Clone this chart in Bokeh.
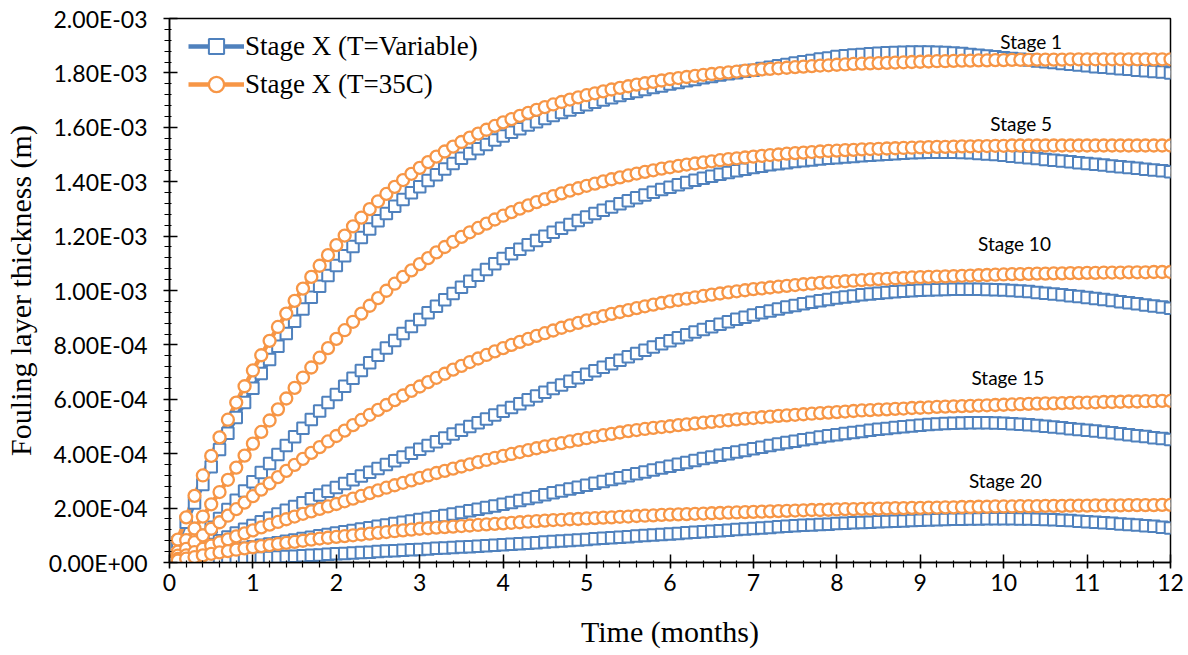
from bokeh.plotting import figure
from bokeh.models import (Range1d, FixedTicker, CustomJSTickFormatter, Legend,
                          LegendItem, ColumnDataSource)
from bokeh.embed import file_html
from bokeh.resources import INLINE
from bokeh.core.properties import value

# ---------------- data (fouling thickness in units of 1e-4 m) ----------------
months = [round(i * 0.1, 1) for i in range(121)]

stage1_35C = [
    0, 0.84, 1.66, 2.45, 3.2, 3.92, 4.6, 5.25, 5.88, 6.48,
    7.06, 7.62, 8.15, 8.66, 9.15, 9.62, 10.07, 10.5, 10.91, 11.3,
    11.67, 12.02, 12.36, 12.68, 12.99, 13.28, 13.55, 13.81, 14.06, 14.29,
    14.51, 14.72, 14.92, 15.11, 15.29, 15.46, 15.62, 15.77, 15.91, 16.05,
    16.18, 16.3, 16.42, 16.53, 16.64, 16.74, 16.84, 16.93, 17.02, 17.1,
    17.18, 17.25, 17.32, 17.39, 17.45, 17.51, 17.57, 17.62, 17.67, 17.72,
    17.77, 17.81, 17.85, 17.89, 17.93, 17.96, 17.99, 18.02, 18.05, 18.08,
    18.1, 18.13, 18.15, 18.17, 18.19, 18.21, 18.23, 18.25, 18.27, 18.28,
    18.3, 18.31, 18.33, 18.34, 18.35, 18.36, 18.37, 18.38, 18.39, 18.4,
    18.41, 18.42, 18.43, 18.43, 18.44, 18.45, 18.45, 18.46, 18.46, 18.47,
    18.47, 18.48, 18.48, 18.48, 18.49, 18.49, 18.49, 18.49, 18.5, 18.5,
    18.5, 18.5, 18.5, 18.5, 18.5, 18.5, 18.5, 18.5, 18.5, 18.5,
    18.5]
stage1_var = [
    0, 0.74, 1.48, 2.19, 2.87, 3.52, 4.15, 4.75, 5.33, 5.88,
    6.41, 6.95, 7.46, 7.95, 8.42, 8.87, 9.32, 9.75, 10.16, 10.55,
    10.92, 11.28, 11.62, 11.95, 12.26, 12.56, 12.83, 13.1, 13.35, 13.59,
    13.81, 14.04, 14.26, 14.47, 14.67, 14.86, 15.04, 15.21, 15.37, 15.53,
    15.68, 15.82, 15.95, 16.08, 16.2, 16.32, 16.43, 16.54, 16.64, 16.74,
    16.83, 16.92, 17.0, 17.09, 17.17, 17.25, 17.32, 17.39, 17.46, 17.52,
    17.59, 17.65, 17.71, 17.76, 17.82, 17.87, 17.92, 17.97, 18.01, 18.06,
    18.1, 18.16, 18.21, 18.26, 18.31, 18.36, 18.41, 18.46, 18.51, 18.55,
    18.6, 18.63, 18.66, 18.68, 18.7, 18.72, 18.74, 18.75, 18.76, 18.77,
    18.77, 18.77, 18.76, 18.75, 18.73, 18.71, 18.68, 18.65, 18.62, 18.59,
    18.56, 18.53, 18.5, 18.47, 18.44, 18.41, 18.38, 18.35, 18.32, 18.29,
    18.26, 18.23, 18.21, 18.18, 18.15, 18.13, 18.1, 18.08, 18.05, 18.03,
    18.0]
stage5_35C = [
    0, 0.4, 0.82, 1.25, 1.69, 2.14, 2.59, 3.04, 3.49, 3.93,
    4.37, 4.8, 5.22, 5.63, 6.03, 6.42, 6.8, 7.17, 7.53, 7.88,
    8.22, 8.54, 8.85, 9.15, 9.44, 9.72, 9.99, 10.25, 10.5, 10.74,
    10.97, 11.19, 11.4, 11.6, 11.79, 11.97, 12.14, 12.3, 12.46, 12.61,
    12.75, 12.88, 13.01, 13.13, 13.25, 13.36, 13.47, 13.57, 13.67, 13.76,
    13.85, 13.93, 14.01, 14.09, 14.16, 14.23, 14.3, 14.36, 14.42, 14.48,
    14.53, 14.58, 14.63, 14.67, 14.71, 14.75, 14.79, 14.83, 14.86, 14.89,
    14.92, 14.95, 14.98, 15.0, 15.03, 15.05, 15.07, 15.09, 15.11, 15.13,
    15.14, 15.16, 15.17, 15.19, 15.2, 15.21, 15.22, 15.23, 15.24, 15.25,
    15.26, 15.27, 15.28, 15.28, 15.29, 15.3, 15.3, 15.31, 15.31, 15.32,
    15.32, 15.33, 15.33, 15.33, 15.33, 15.33, 15.33, 15.33, 15.33, 15.33,
    15.33, 15.33, 15.33, 15.33, 15.33, 15.33, 15.33, 15.33, 15.33, 15.33,
    15.33]
stage5_var = [
    0, 0.2, 0.45, 0.72, 1.0, 1.3, 1.62, 1.95, 2.29, 2.63,
    2.97, 3.31, 3.64, 3.97, 4.3, 4.62, 4.94, 5.26, 5.57, 5.88,
    6.18, 6.48, 6.77, 7.06, 7.34, 7.62, 7.89, 8.16, 8.42, 8.68,
    8.93, 9.18, 9.42, 9.66, 9.89, 10.12, 10.34, 10.56, 10.77, 10.98,
    11.18, 11.35, 11.52, 11.68, 11.84, 11.99, 12.14, 12.29, 12.43, 12.57,
    12.7, 12.83, 12.95, 13.07, 13.19, 13.3, 13.41, 13.51, 13.61, 13.71,
    13.8, 13.89, 13.97, 14.05, 14.13, 14.2, 14.27, 14.34, 14.4, 14.46,
    14.52, 14.57, 14.62, 14.66, 14.7, 14.74, 14.77, 14.8, 14.83, 14.86,
    14.88, 14.91, 14.93, 14.95, 14.97, 14.99, 15.01, 15.03, 15.05, 15.06,
    15.07, 15.08, 15.08, 15.08, 15.08, 15.07, 15.06, 15.04, 15.02, 15.0,
    14.97, 14.94, 14.91, 14.88, 14.85, 14.82, 14.79, 14.76, 14.73, 14.7,
    14.67, 14.64, 14.61, 14.58, 14.55, 14.52, 14.49, 14.46, 14.43, 14.4,
    14.37]
stage10_35C = [
    0, 0.25, 0.5, 0.75, 1.0, 1.24, 1.48, 1.72, 1.96, 2.2,
    2.44, 2.68, 2.91, 3.14, 3.37, 3.59, 3.81, 4.03, 4.24, 4.45,
    4.65, 4.85, 5.05, 5.24, 5.43, 5.61, 5.79, 5.97, 6.14, 6.31,
    6.47, 6.63, 6.79, 6.94, 7.09, 7.23, 7.37, 7.5, 7.63, 7.76,
    7.88, 8.0, 8.11, 8.22, 8.33, 8.43, 8.53, 8.63, 8.72, 8.81,
    8.9, 8.98, 9.06, 9.14, 9.21, 9.28, 9.35, 9.42, 9.48, 9.54,
    9.6, 9.65, 9.7, 9.75, 9.8, 9.85, 9.89, 9.93, 9.97, 10.01,
    10.05, 10.08, 10.11, 10.14, 10.17, 10.2, 10.23, 10.25, 10.28, 10.3,
    10.32, 10.34, 10.36, 10.38, 10.4, 10.42, 10.43, 10.45, 10.46, 10.48,
    10.49, 10.5, 10.51, 10.52, 10.53, 10.54, 10.55, 10.56, 10.57, 10.58,
    10.59, 10.6, 10.6, 10.61, 10.62, 10.62, 10.63, 10.63, 10.64, 10.64,
    10.65, 10.65, 10.66, 10.66, 10.66, 10.67, 10.67, 10.67, 10.68, 10.68,
    10.68]
stage10_var = [
    0, 0.12, 0.25, 0.38, 0.52, 0.66, 0.8, 0.94, 1.08, 1.22,
    1.36, 1.5, 1.64, 1.78, 1.92, 2.06, 2.2, 2.34, 2.48, 2.62,
    2.76, 2.9, 3.04, 3.18, 3.32, 3.46, 3.6, 3.74, 3.88, 4.02,
    4.16, 4.3, 4.44, 4.58, 4.72, 4.86, 5.0, 5.14, 5.28, 5.42,
    5.56, 5.7, 5.84, 5.98, 6.12, 6.26, 6.4, 6.53, 6.66, 6.79,
    6.92, 7.05, 7.18, 7.31, 7.44, 7.56, 7.68, 7.8, 7.92, 8.04,
    8.15, 8.26, 8.37, 8.47, 8.57, 8.67, 8.76, 8.85, 8.94, 9.02,
    9.1, 9.18, 9.25, 9.32, 9.39, 9.45, 9.51, 9.57, 9.62, 9.67,
    9.72, 9.76, 9.8, 9.84, 9.87, 9.9, 9.93, 9.95, 9.97, 9.99,
    10.01, 10.02, 10.03, 10.04, 10.05, 10.05, 10.05, 10.05, 10.04, 10.03,
    10.02, 10.0, 9.98, 9.96, 9.93, 9.9, 9.87, 9.84, 9.81, 9.78,
    9.74, 9.71, 9.67, 9.63, 9.59, 9.55, 9.51, 9.47, 9.43, 9.39,
    9.35]
stage15_35C = [
    0, 0.13, 0.26, 0.38, 0.5, 0.62, 0.74, 0.85, 0.96, 1.07,
    1.18, 1.29, 1.39, 1.49, 1.59, 1.69, 1.79, 1.88, 1.97, 2.06,
    2.15, 2.25, 2.35, 2.45, 2.55, 2.65, 2.75, 2.84, 2.93, 3.02,
    3.11, 3.2, 3.29, 3.37, 3.45, 3.53, 3.61, 3.69, 3.77, 3.85,
    3.92, 3.99, 4.06, 4.13, 4.2, 4.27, 4.33, 4.39, 4.45, 4.51,
    4.57, 4.63, 4.68, 4.73, 4.78, 4.83, 4.87, 4.91, 4.95, 4.98,
    5.01, 5.05, 5.08, 5.11, 5.14, 5.17, 5.2, 5.23, 5.26, 5.29,
    5.31, 5.34, 5.36, 5.39, 5.41, 5.43, 5.45, 5.47, 5.49, 5.51,
    5.53, 5.55, 5.57, 5.59, 5.6, 5.62, 5.63, 5.65, 5.66, 5.68,
    5.69, 5.7, 5.72, 5.73, 5.74, 5.75, 5.76, 5.77, 5.78, 5.79,
    5.8, 5.81, 5.82, 5.83, 5.84, 5.85, 5.85, 5.86, 5.87, 5.88,
    5.88, 5.89, 5.9, 5.9, 5.91, 5.92, 5.92, 5.93, 5.93, 5.94,
    5.94]
stage15_var = [
    0, 0.05, 0.1, 0.16, 0.22, 0.28, 0.34, 0.4, 0.46, 0.52,
    0.58, 0.63, 0.68, 0.73, 0.78, 0.83, 0.88, 0.93, 0.98, 1.03,
    1.08, 1.13, 1.18, 1.23, 1.28, 1.33, 1.38, 1.43, 1.48, 1.53,
    1.58, 1.63, 1.68, 1.73, 1.78, 1.84, 1.9, 1.96, 2.02, 2.08,
    2.14, 2.21, 2.28, 2.35, 2.42, 2.49, 2.56, 2.63, 2.7, 2.77,
    2.84, 2.91, 2.98, 3.05, 3.12, 3.19, 3.26, 3.33, 3.4, 3.47,
    3.54, 3.61, 3.68, 3.75, 3.82, 3.88, 3.94, 4.0, 4.06, 4.12,
    4.18, 4.24, 4.3, 4.36, 4.41, 4.46, 4.51, 4.56, 4.61, 4.66,
    4.7, 4.74, 4.78, 4.82, 4.86, 4.9, 4.93, 4.96, 4.99, 5.02,
    5.05, 5.07, 5.09, 5.11, 5.12, 5.13, 5.14, 5.14, 5.14, 5.13,
    5.12, 5.1, 5.08, 5.06, 5.04, 5.01, 4.98, 4.95, 4.92, 4.89,
    4.86, 4.83, 4.8, 4.77, 4.73, 4.7, 4.66, 4.63, 4.59, 4.56,
    4.52]
stage20_35C = [
    0, 0.07, 0.14, 0.2, 0.26, 0.32, 0.37, 0.42, 0.47, 0.52,
    0.56, 0.6, 0.64, 0.68, 0.72, 0.76, 0.8, 0.84, 0.88, 0.91,
    0.94, 0.97, 1.0, 1.03, 1.06, 1.09, 1.12, 1.15, 1.18, 1.21,
    1.24, 1.26, 1.28, 1.3, 1.32, 1.34, 1.36, 1.38, 1.4, 1.42,
    1.44, 1.46, 1.48, 1.5, 1.52, 1.54, 1.56, 1.57, 1.59, 1.6,
    1.62, 1.63, 1.65, 1.66, 1.68, 1.69, 1.71, 1.72, 1.73, 1.75,
    1.76, 1.77, 1.78, 1.79, 1.8, 1.81, 1.82, 1.83, 1.84, 1.85,
    1.86, 1.87, 1.88, 1.89, 1.9, 1.91, 1.92, 1.93, 1.93, 1.94,
    1.95, 1.96, 1.96, 1.97, 1.98, 1.98, 1.99, 2.0, 2.0, 2.01,
    2.01, 2.02, 2.02, 2.03, 2.03, 2.04, 2.04, 2.05, 2.05, 2.06,
    2.06, 2.06, 2.07, 2.07, 2.07, 2.08, 2.08, 2.08, 2.09, 2.09,
    2.09, 2.1, 2.1, 2.1, 2.1, 2.11, 2.11, 2.11, 2.11, 2.12,
    2.12]
stage20_var = [
    0, 0.01, 0.02, 0.04, 0.05, 0.07, 0.08, 0.1, 0.12, 0.13,
    0.15, 0.17, 0.18, 0.2, 0.22, 0.23, 0.25, 0.27, 0.28, 0.3,
    0.32, 0.33, 0.35, 0.37, 0.38, 0.4, 0.42, 0.43, 0.45, 0.47,
    0.48, 0.5, 0.52, 0.53, 0.55, 0.57, 0.58, 0.6, 0.62, 0.63,
    0.65, 0.67, 0.69, 0.71, 0.73, 0.75, 0.77, 0.79, 0.81, 0.83,
    0.85, 0.87, 0.89, 0.91, 0.93, 0.95, 0.97, 0.99, 1.01, 1.03,
    1.05, 1.07, 1.09, 1.11, 1.13, 1.15, 1.17, 1.19, 1.21, 1.23,
    1.25, 1.27, 1.29, 1.31, 1.33, 1.35, 1.37, 1.38, 1.4, 1.41,
    1.43, 1.44, 1.46, 1.47, 1.48, 1.5, 1.51, 1.52, 1.53, 1.54,
    1.55, 1.56, 1.57, 1.58, 1.59, 1.59, 1.6, 1.6, 1.61, 1.61,
    1.61, 1.61, 1.6, 1.6, 1.59, 1.58, 1.57, 1.55, 1.54, 1.52,
    1.5, 1.48, 1.46, 1.44, 1.42, 1.4, 1.38, 1.35, 1.33, 1.3,
    1.27]

series_variable = [stage1_var, stage5_var, stage10_var, stage15_var, stage20_var]
series_35C = [stage1_35C, stage5_35C, stage10_35C, stage15_35C, stage20_35C]
UNIT = 1e-4  # values above are in 1e-4 m

stage_labels = ["Stage 1", "Stage 5", "Stage 10", "Stage 15", "Stage 20"]
label_month = [10.33, 10.21, 10.13, 10.05, 10.02]
label_value = [1.917e-3, 1.615e-3, 1.172e-3, 0.681e-3, 0.301e-3]

x_ticks = list(range(13))
y_ticks = [i * 2e-4 for i in range(11)]
x_minor = [i * 0.2 for i in range(61)]
y_minor = [i * 4e-5 for i in range(51)]

legend_var = "Stage X (T=Variable)"
legend_35C = "Stage X (T=35C)"

# ---------------- figure ----------------
BLUE = "#4F81BD"
ORANGE = "#F79646"
TICK_FONT = "Lato"
SERIF = "Liberation Serif"

p = figure(width=1188, height=655, output_backend="svg", toolbar_location=None,
           x_range=Range1d(0, 12), y_range=Range1d(0, 0.002),
           min_border_left=166, min_border_right=18, min_border_top=18,
           min_border_bottom=93)
p.background_fill_color = "white"
p.border_fill_color = "white"
p.grid.visible = False
p.outline_line_color = "black"
p.outline_line_width = 1.5

for ax in (p.xaxis[0], p.yaxis[0]):
    ax.axis_line_color = "black"
    ax.axis_line_width = 1.5
    ax.major_tick_line_color = "black"
    ax.minor_tick_line_color = "black"
    ax.major_tick_line_width = 1.5
    ax.minor_tick_line_width = 1.2
    ax.major_tick_in = 8
    ax.major_tick_out = 6
    ax.minor_tick_in = 2
    ax.minor_tick_out = 5
    ax.major_label_text_font = TICK_FONT
    ax.major_label_text_font_size = "23px"
    ax.major_label_text_color = "black"
    ax.axis_label_text_font = SERIF
    ax.axis_label_text_font_size = "30px"
    ax.axis_label_text_font_style = "normal"
    ax.axis_label_text_color = "black"

p.xaxis.ticker = FixedTicker(ticks=x_ticks, minor_ticks=x_minor)
p.yaxis.ticker = FixedTicker(ticks=y_ticks, minor_ticks=y_minor)
p.xaxis.axis_label = "Time (months)"
p.yaxis.axis_label = "Fouling layer thickness (m)"
p.xaxis.major_label_standoff = 5
p.yaxis.major_label_standoff = 16
p.xaxis.axis_label_standoff = 21
p.yaxis.axis_label_standoff = 9
p.yaxis.formatter = CustomJSTickFormatter(code="""
    if (Math.abs(tick) < 1e-12) { return "0.00E+00"; }
    let e = Math.floor(Math.log10(Math.abs(tick)) + 1e-9);
    let m = tick / Math.pow(10, e);
    const s = e < 0 ? "-" : "+";
    return m.toFixed(2) + "E" + s + String(Math.abs(e)).padStart(2, "0");
""")

# lines first (hidden under the white-filled markers, shown in the legend)
sources_var = [ColumnDataSource(data=dict(t=months, v=[x * UNIT for x in vals]))
               for vals in series_variable]
sources_35 = [ColumnDataSource(data=dict(t=months, v=[x * UNIT for x in vals]))
              for vals in series_35C]
lines_var = [p.line("t", "v", source=s, line_color=BLUE, line_width=4.5)
             for s in sources_var]
lines_35 = [p.line("t", "v", source=s, line_color=ORANGE, line_width=4.5)
            for s in sources_35]
marks_var = [p.scatter("t", "v", source=s, marker="square", size=11.5,
                       line_color=BLUE, line_width=2, fill_color="white")
             for s in sources_var]
marks_35 = [p.scatter("t", "v", source=s, marker="circle", size=12,
                      line_color=ORANGE, line_width=2.3, fill_color="white")
            for s in sources_35]

p.text(x=label_month, y=label_value, text=stage_labels,
       text_font=value(TICK_FONT), text_font_size="19px",
       text_align="center", text_baseline="middle", text_color="black")

legend = Legend(items=[LegendItem(label=legend_var, renderers=[lines_var[0], marks_var[0]]),
                       LegendItem(label=legend_35C, renderers=[lines_35[0], marks_35[0]])],
                location=(19, 459), orientation="vertical",
                label_text_font=SERIF, label_text_font_size="27px",
                label_text_color="black", label_standoff=1,
                glyph_width=56, glyph_height=38, label_height=38,
                padding=0, spacing=0, margin=0,
                border_line_color=None, background_fill_alpha=0)
p.add_layout(legend)

open("out.html", "w").write(file_html(p, INLINE))
